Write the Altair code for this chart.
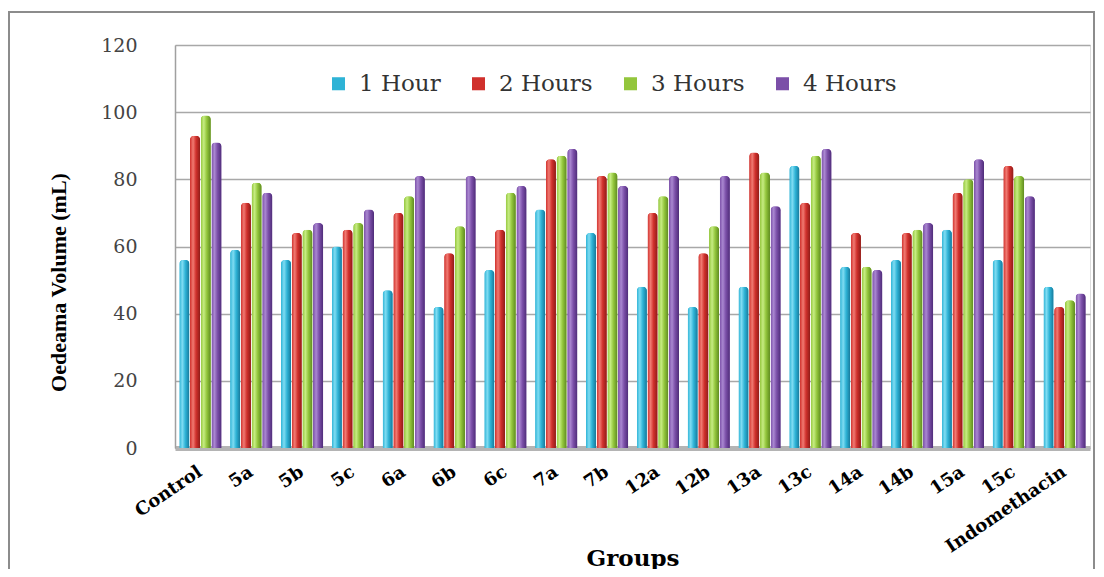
import altair as alt
import pandas as pd

groups = ["Control", "5a", "5b", "5c", "6a", "6b", "6c", "7a", "7b", "12a",
          "12b", "13a", "13c", "14a", "14b", "15a", "15c", "Indomethacin"]
series = ["1 Hour", "2 Hours", "3 Hours", "4 Hours"]
hour1 = [56, 59, 56, 60, 47, 42, 53, 71, 64, 48, 42, 48, 84, 54, 56, 65, 56, 48]
hour2 = [93, 73, 64, 65, 70, 58, 65, 86, 81, 70, 58, 88, 73, 64, 64, 76, 84, 42]
hour3 = [99, 79, 65, 67, 75, 66, 76, 87, 82, 75, 66, 82, 87, 54, 65, 80, 81, 44]
hour4 = [91, 76, 67, 71, 81, 81, 78, 89, 78, 81, 81, 72, 89, 53, 67, 86, 75, 46]
colors = ["#2eb3d6", "#d0302c", "#93c63c", "#7b4fa8"]
light = ["#7fdcf2", "#f07a72", "#c6ec82", "#a987d0"]
dark = ["#17789a", "#8e1c18", "#5e8a20", "#4e2c78"]

rows = []
for s, vals in zip(series, [hour1, hour2, hour3, hour4]):
    for g, v in zip(groups, vals):
        rows.append({"Group": g, "Series": s, "Value": v})
df = pd.DataFrame(rows)

serif = "Liberation Serif"
wide_serif = "DejaVu Serif"

x_enc = alt.X("Group:N", sort=groups, scale=alt.Scale(domain=groups, paddingInner=0.17, paddingOuter=0.085),
              axis=alt.Axis(title="Groups", labelAngle=-34, labelAlign="right", labelBaseline="middle",
                            labelFont=wide_serif, labelFontWeight="bold", labelFontSize=18, labelColor="#000",
                            labelPadding=22, labelOffset=0, ticks=False,
                            domain=True, domainColor="#b4b4b4", domainWidth=5,
                            titleFont=wide_serif, titleFontWeight="bold", titleFontSize=23, titleColor="#000",
                            titleY=117, titleBaseline="alphabetic"))
xo_enc = alt.XOffset("Series:N", sort=series, scale=alt.Scale(domain=series, paddingInner=0.06))
y_enc = alt.Y("Value:Q", scale=alt.Scale(domain=[0, 120]),
              axis=alt.Axis(title="Oedeama Volume (mL)", values=[0, 20, 40, 60, 80, 100, 120],
                            labelFont=wide_serif, labelFontSize=19, labelColor="#444", labelPadding=38,
                            ticks=False, domain=True, domainColor="#a0a0a0", domainWidth=1.5,
                            grid=True, gridColor="#a8a8a8", gridWidth=1.5,
                            titleFont=serif, titleFontWeight="bold", titleFontSize=22, titleColor="#000",
                            titleX=-105, titleY=237, titleBaseline="bottom"))

base = alt.Chart(df).mark_bar(cornerRadiusTopLeft=4, cornerRadiusTopRight=4).encode(
    x=x_enc, xOffset=xo_enc, y=y_enc,
    color=alt.Color("Series:N", sort=series, scale=alt.Scale(domain=series, range=colors),
                    legend=alt.Legend(title=None, orient="none", direction="horizontal",
                                      legendX=152, legendY=27, symbolType="square", symbolSize=170,
                                      symbolStrokeWidth=0, labelFont=wide_serif, labelFontSize=23,
                                      labelColor="#333", columnPadding=26, labelOffset=9)),
)

layers = [base]
for s, lc, mc, dc in zip(series, light, colors, dark):
    grad = alt.LinearGradient(gradient="linear", x1=0, x2=1, y1=0, y2=0,
                              stops=[alt.GradientStop(color=mc, offset=0),
                                     alt.GradientStop(color=lc, offset=0.3),
                                     alt.GradientStop(color=mc, offset=0.6),
                                     alt.GradientStop(color=dc, offset=1)])
    layers.append(
        alt.Chart(df).transform_filter(alt.datum.Series == s)
        .mark_bar(fill=grad, cornerRadiusTopLeft=4, cornerRadiusTopRight=4)
        .encode(x=x_enc, xOffset=xo_enc, y=y_enc)
    )

frame = alt.Chart(df).mark_rect(fill=None, stroke="#8c8c8c", strokeWidth=1.5).encode(
    x=alt.value(-166), x2=alt.value(919), y=alt.value(-33), y2=alt.value(700)
)
layers.append(frame)

chart = alt.layer(*layers).properties(
    width=915, height=403,
    autosize=alt.AutoSizeParams(type="none"),
    padding={"left": 167, "top": 37, "right": 6, "bottom": 121},
).configure_view(stroke=None).configure(background="white")

chart.save("out.html", embed_options={"renderer": "svg", "actions": False})
